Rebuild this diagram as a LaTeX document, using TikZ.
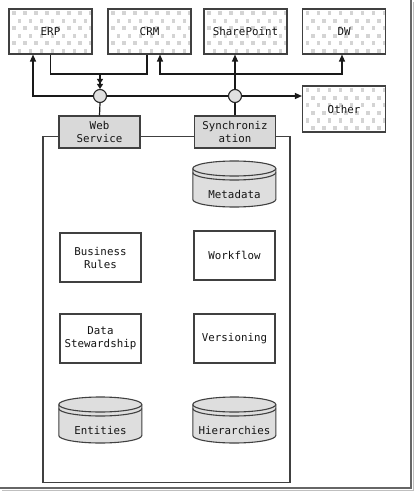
\documentclass[tikz,border=0pt]{standalone}
\usepackage{fontspec}
\setmonofont{DejaVu Sans Mono}
\usetikzlibrary{arrows.meta,calc}
\tikzset{
  lbl/.style={font=\ttfamily\fontsize{10.8}{13}\selectfont, align=center, text=black!92},
  sysbox/.style={lbl, draw=black!75, line width=1.1pt, minimum width=83, minimum height=45, inner sep=1,
    path picture={
      \foreach \i in {0,...,8}{\foreach \j in {0,...,6}{
        \pgfmathsetmacro\dx{\i*11+3+mod(\j,2)*5.5}
        \pgfmathsetmacro\dy{-(\j*7.5+2.5)}
        \fill[black!17] ([xshift=\dx pt, yshift=\dy pt]path picture bounding box.north west) rectangle ++(3.5pt,-4pt);}}}},
  gbox/.style={lbl, draw=black!75, fill=black!15, line width=1.1pt, minimum width=81, minimum height=32, inner sep=1},
  wbox/.style={lbl, draw=black!75, fill=white, line width=1.1pt, minimum width=81, minimum height=49, inner sep=1},
  junc/.style={circle, draw=black!85, fill=black!12, line width=1.1pt, minimum size=13, inner sep=0},
  ln/.style={draw=black!90, line width=1.2pt},
  tip/.style={-{Triangle[length=7pt,width=6pt]}}
}
\newcommand\mdcyl[4]{%
  \node[minimum width=83, minimum height=46, inner sep=0, anchor=north] (#1) at (#2,#3) {};
  \begin{scope}[shift={(#1.north west)}]
    \filldraw[fill=black!13, draw=black!75, line width=1.1pt] (0,7.5) -- (0,38.5)
      arc[start angle=180, end angle=0, x radius=41.5, y radius=7.5] -- (83,7.5)
      arc[start angle=0, end angle=-180, x radius=41.5, y radius=7.5] -- cycle;
    \draw[draw=black!75, line width=1.1pt] (0,7.5) arc[start angle=180, end angle=0, x radius=41.5, y radius=7.5];
    \draw[draw=black!75, line width=1.1pt] (0,11.5) arc[start angle=180, end angle=0, x radius=41.5, y radius=7.5];
  \end{scope}
  \node[lbl] (#1-t) at ($(#1.south)+(0,-13)$) {#4};
}
\begin{document}
\begin{tikzpicture}[x=1pt,y=-1pt]
\useasboundingbox (0,0) rectangle (415,492);
\fill[white] (0,0) rectangle (415,492);
% frame
\draw[black!25, line width=1.5pt] (413.5,2) -- (413.5,490.5) -- (2,490.5);
\draw[black!60, line width=1.3pt] (411,0) -- (411,488) -- (0,488);

% systems
\node[sysbox] (erp) at (50.5,31.5) {ERP};
\node[sysbox] (crm) at (149.5,31.5) {CRM};
\node[sysbox] (sp) at (245.5,31.5) {SharePoint};
\node[sysbox] (dw) at (344,31.5) {DW};
\node[sysbox, minimum height=46] (other) at (344,109) {Other};

% container
\node[draw=black!75, line width=1.1pt, minimum width=247, minimum height=346, inner sep=0] (mds) at (166.5,309.5) {};

% interfaces
\node[junc] (c1) at (100,96) {};
\node[junc] (c2) at (235,96) {};
\node[gbox] (ws) at (99.5,132) {Web\\Service};
\node[gbox] (sync) at (235,132) {Synchroniz\\ation};

% inner components
\mdcyl{meta}{234.5}{161}{Metadata}
\node[wbox] (br) at (100.5,257.5) {Business\\Rules};
\node[wbox] (wf) at (234.5,255.5) {Workflow};
\node[wbox] (ds) at (100.5,338.5) {Data\\Stewardship};
\node[wbox] (ver) at (234.5,338.5) {Versioning};
\mdcyl{ent}{100.5}{397}{Entities}
\mdcyl{hier}{234.5}{397}{Hierarchies}

% connectors
\coordinate (j1) at (100,74);
\coordinate (j2) at (235,74);
\draw[ln] (erp.south) |- (j1) -| ([xshift=-2.5pt]crm.south);
\draw[ln, -{Triangle[length=5pt,width=6pt]Triangle[length=5pt,width=6pt]}] (j1) -- (c1.north);
\draw[ln, tip] (c1.west) -| ([xshift=-17.5pt]erp.south);
\draw[ln] (c1.east) -- (c2.west);
\draw[ln, tip] (c2.east) -- (c2.east -| other.west);
\draw[ln, tip] (c2.north) -- (c2.north |- sp.south);
\draw[ln, {Triangle[length=7pt,width=6pt]}-{Triangle[length=7pt,width=6pt]}] ([xshift=10.5pt]crm.south) |- (j2) -| ([xshift=-2pt]dw.south);
\draw[ln] (c1.south) -- (ws.north);
\draw[ln] (c2.south) -- (sync.north);
\end{tikzpicture}
\end{document}
